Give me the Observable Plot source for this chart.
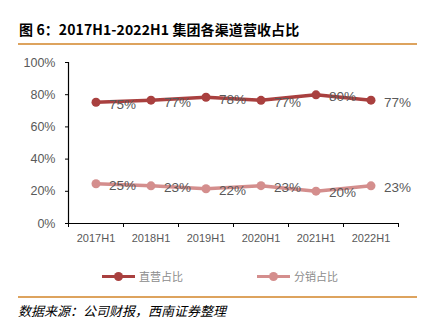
<!DOCTYPE html>
<html><head><meta charset="utf-8">
<script src="https://cdn.jsdelivr.net/npm/d3@7"></script>
<script src="https://cdn.jsdelivr.net/npm/@observablehq/plot@0.6"></script>
<style>
body{margin:0;width:432px;height:322px;background:#fff;position:relative;overflow:hidden;font-family:"Noto Sans CJK SC",sans-serif;}
#title{position:absolute;left:19px;top:19px;font-size:14px;font-weight:bold;color:#000;white-space:nowrap;letter-spacing:0.1px;}
.rule{position:absolute;left:18px;width:399px;height:1.5px;background:#DDA35E;}
#chart{position:absolute;left:0;top:50px;}
#legend{position:absolute;left:0;top:268px;width:432px;height:16px;font-size:11px;color:#8c8c8c;}
.li{position:absolute;top:0;display:flex;align-items:center;height:16px;}
.li .sw{position:relative;width:33px;height:16px;margin-right:4px;}
.li .sw .ln{position:absolute;left:0;top:6.5px;width:33px;height:3.5px;}
.li .sw .dt{position:absolute;left:12px;top:4px;width:9px;height:9px;border-radius:50%;}
#caption{position:absolute;left:18px;top:301px;font-size:13px;font-style:italic;color:#000;white-space:nowrap;}
</style></head>
<body>
<div id="title">图 6：2017H1-2022H1 集团各渠道营收占比</div>
<div class="rule" style="top:43px"></div>
<div id="chart"></div>
<div id="legend"></div>
<div class="rule" style="top:296px"></div>
<div id="caption">数据来源：公司财报，西南证券整理</div>
<script>
const categories = ["2017H1","2018H1","2019H1","2020H1","2021H1","2022H1"];
const directValues = [75.3, 76.6, 78.4, 76.5, 79.9, 76.6];
const directLabels = ["75%","77%","78%","77%","80%","77%"];
const distValues = [24.7, 23.4, 21.6, 23.5, 20.1, 23.4];
const distLabels = ["25%","23%","22%","23%","20%","23%"];
const seriesNames = ["直营占比","分销占比"];
const yTicks = [0,20,40,60,80,100];

const colors = ["#A9403F","#D48E8D"];
const rows = [];
categories.forEach((c,i)=>{
  rows.push({series:seriesNames[0], i, cat:c, v:directValues[i], label:directLabels[i]});
  rows.push({series:seriesNames[1], i, cat:c, v:distValues[i], label:distLabels[i]});
});
const boundaries = d3.range(categories.length+1).map(k=>k-0.5);
const font = "'Liberation Sans', Arial, sans-serif";

const plot = Plot.plot({
  width:432, height:200,
  marginTop:12, marginBottom:27, marginLeft:68, marginRight:34,
  style:{fontFamily:font, fontSize:"11px", color:"#595959", background:"transparent"},
  x:{type:"linear", domain:[-0.5, categories.length-0.5]},
  y:{domain:[0,100]},
  color:{domain:seriesNames, range:colors},
  marks:[
    Plot.axisY({ticks:yTicks, tickFormat:d=>d+"%", tickSize:3, tickPadding:10, label:null, stroke:"#000", fill:"#595959", fontSize:12.5}),
    Plot.ruleX([-0.5], {stroke:"#000", strokeWidth:1.2}),
    Plot.ruleY([0], {stroke:"#000", strokeWidth:1.2}),
    Plot.axisX({ticks:boundaries, tickFormat:()=>"", tickSize:4, stroke:"#000", label:null}),
    Plot.axisX({ticks:d3.range(categories.length), tickFormat:i=>categories[i], tickSize:0, tickPadding:11, label:null, fill:"#595959", fontSize:11}),
    Plot.line(rows, {x:"i", y:"v", z:"series", stroke:"series", strokeWidth:3.5}),
    Plot.dot(rows, {x:"i", y:"v", fill:"series", r:4.5}),
    Plot.text(rows, {x:"i", y:"v", text:"label", dx:13, dy:2, textAnchor:"start", fill:"#595959", fontSize:13.5})
  ]
});
document.getElementById("chart").appendChild(plot);

const legendPos = [102, 257];
const leg = document.getElementById("legend");
seriesNames.forEach((n,k)=>{
  const d = document.createElement("div");
  d.className="li"; d.style.left=legendPos[k]+"px";
  d.innerHTML = `<div class="sw"><div class="ln" style="background:${colors[k]}"></div><div class="dt" style="background:${colors[k]}"></div></div><span>${n}</span>`;
  leg.appendChild(d);
});
</script>
</body></html>
